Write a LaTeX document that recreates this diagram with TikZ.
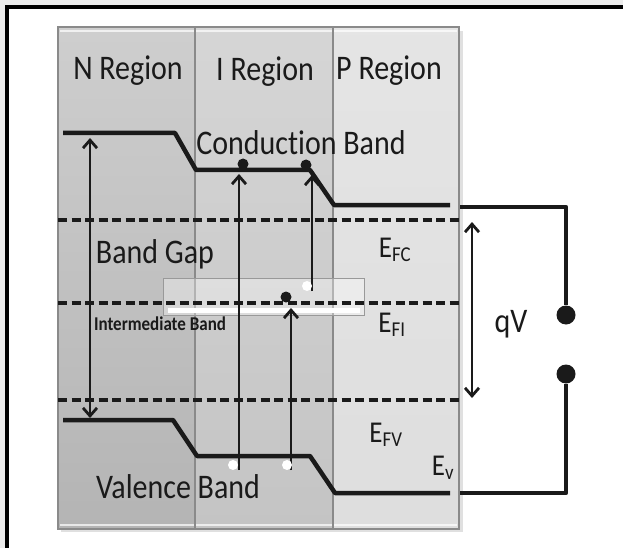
\documentclass[tikz,border=0pt]{standalone}
\definecolor{PINpage}{HTML}{ECECEC}
\definecolor{PINn}{HTML}{B4B4B4}
\definecolor{PINi}{HTML}{C4C4C4}
\definecolor{PINp}{HTML}{DEDEDE}
\definecolor{PINedge}{HTML}{8A8A8A}
\definecolor{PINink}{HTML}{1A1A1A}
\usepackage{fontspec, graphicx}
\setmainfont{Carlito}[Ligatures=NoCommon]
\usetikzlibrary{arrows.meta, positioning}
\newcommand{\esub}[1]{\scalebox{1}[1.12]{E\textsubscript{#1}}}
\newcommand{\tall}[1]{\scalebox{1}[1.15]{#1}}

\begin{document}
\begin{tikzpicture}[x=1pt, y=-1pt,
    band/.style={PINink, line width=4.5pt, line join=round},
    level/.style={PINink, line width=3.2pt, dash pattern=on 9pt off 4.5pt},
    jump/.style={PINink, line width=2.8pt, -{Straight Barb[length=8pt, width=14pt]}},
    span/.style={PINink, line width=2.8pt, {Straight Barb[length=8pt, width=14pt]}-{Straight Barb[length=8pt, width=14pt]}},
    elec/.style={circle, fill=PINink, inner sep=0pt, minimum size=11pt},
    hole/.style={circle, fill=white, inner sep=0pt, minimum size=10pt},
    term/.style={circle, fill=PINink, inner sep=0pt, minimum size=19pt},
    lbl/.style={PINink, inner sep=0pt, anchor=base, font=\fontsize{30}{31}\selectfont},
    ]
\useasboundingbox (0,0) rectangle (623,548);
\fill[PINpage] (0,0) rectangle (623,548);
\fill[white] (7,7) rectangle (623,548);
\draw[black, line width=4pt] (7,548) -- (7,7) -- (623,7);

% N, I and P regions
\fill[black!12] (61,31) rectangle (463,532);
\fill[top color=PINn!65!white, bottom color=PINn] (58,27) rectangle (195,529);
\fill[top color=PINi!70!white, bottom color=PINi] (195,27) rectangle (333,529);
\fill[top color=PINp!80!white, bottom color=PINp] (333,27) rectangle (459,529);
\draw[white, line width=1.5pt, opacity=0.7] (60,31) -- (457,31) (60,525) -- (457,525);
\draw[PINedge, line width=1.2pt] (58,27) rectangle (459,529) (195,27) -- (195,529) (333,27) -- (333,529);

\node[lbl] (nreg) at (128,80) {\tall{N Region}};
\node[lbl] (ireg) at (265,81) {\tall{I Region}};
\node[lbl] (preg) at (389,80) {\tall{P Region}};

% intermediate band window
\draw[black!40, line width=1pt, fill=white, fill opacity=0.35] (163,278) rectangle (364,315);
\fill[white] (168,308) rectangle (360,313);

% quasi-Fermi levels
\draw[level] (58,220) -- (459,220);
\draw[level] (58,303) -- (459,303);
\draw[level] (58,400) -- (459,400);

% band edges
\draw[band] (63,133) -- (175,133) -- (196,170) -- (310,170) -- (334,205) -- (450,205);
\draw[band] (63,420) -- (173,420) -- (197,456) -- (310,456) -- (335,493) -- (450,493);

\node[lbl] (cb) at (301,155) {\tall{Conduction Band}};
\node[lbl] (gap) at (155,263) {\tall{Band Gap}};
\node[lbl, font=\bfseries\fontsize{17}{18}\selectfont] (ib) at (160,330) {\tall{Intermediate Band}};
\node[lbl] (vb) at (178,498) {\tall{Valence Band}};

\node[lbl, font=\fontsize{27}{28}\selectfont] (efc) at (395,257) {\esub{FC}};
\node[lbl, font=\fontsize{27}{28}\selectfont] (efi) at (392,332) {\esub{FI}};
\node[lbl, font=\fontsize{27}{28}\selectfont] (efv) at (386,442) {\esub{FV}};
\node[lbl, font=\fontsize{27}{28}\selectfont] (ev) at (443,475) {\esub{v}};

% band gap
\coordinate (g1) at (90,138);
\coordinate (g2) at (90,418);
\draw[span] (g1) -- (g2);

% transitions
\coordinate (a1) at (239,470); \coordinate (b1) at (239,174);
\coordinate (a2) at (312,291); \coordinate (b2) at (312,175);
\coordinate (a3) at (291,470); \coordinate (b3) at (291,308);
\draw[jump] (a1) -- (b1);
\draw[jump] (a2) -- (b2);
\draw[jump] (a3) -- (b3);
\node[elec] (e1) at (243,164) {};
\node[elec] (e2) at (306,165) {};
\node[elec] (e3) at (286,297) {};
\node[hole] (h1) at (233,465) {};
\node[hole] (h2) at (307,286) {};
\node[hole] (h3) at (287,465) {};

% applied voltage
\coordinate (v1) at (472,222);
\coordinate (v2) at (472,398);
\draw[span] (v1) -- (v2);
\node[lbl] (qv) at (511,332) {\tall{qV}};
\node[term] (ta) at (566,315) {};
\node[term] (tb) at (566,374) {};
\coordinate (wa) at (460,207);
\coordinate (wb) at (460,493);
\draw[band] (wa) -| (ta);
\draw[band] (wb) -| (tb);
\end{tikzpicture}
\end{document}
